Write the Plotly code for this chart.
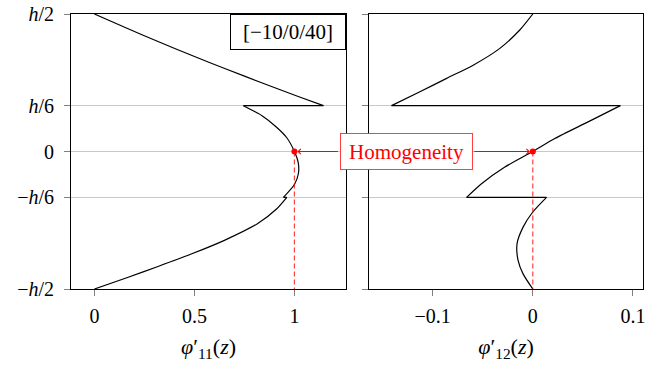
import plotly.graph_objects as go
from plotly.subplots import make_subplots

# layer interfaces and data (z in units of h)
# top layer (40 deg), middle layer (0 deg), bottom layer (-10 deg)
z_top = [0.5, 0.45, 0.4, 0.35, 0.3, 0.25, 0.2, 0.1667]
phi11_top = [0.0, 0.157, 0.318, 0.485, 0.658, 0.836, 1.019, 1.145]

z_mid = [0.1667, 0.13, 0.09, 0.05, 0.0, -0.04, -0.08, -0.12, -0.1667]
phi11_mid = [0.745, 0.838, 0.908, 0.962, 1.0, 1.019, 1.02, 1.0, 0.945]

z_bot = [-0.1667, -0.208, -0.2625, -0.323, -0.372, -0.418, -0.459, -0.5]
phi11_bot = [0.962, 0.912, 0.815, 0.65, 0.487, 0.318, 0.162, 0.0]

z12_top = [0.5, 0.4417, 0.375, 0.314, 0.266, 0.217, 0.1667]
phi12_top = [0.0, -0.013, -0.0329, -0.0595, -0.086, -0.1127, -0.141]

z12_mid = [0.1667, 0.1077, 0.0472, 0.0, -0.0563, -0.117, -0.1667]
phi12_mid = [0.0874, 0.0552, 0.0219, 0.0, -0.0279, -0.0512, -0.0661]

z12_bot = [-0.1667, -0.22, -0.275, -0.335, -0.396, -0.445, -0.5]
phi12_bot = [0.0137, 0.0, -0.0097, -0.0157, -0.0147, -0.0097, 0.0]

# homogeneity points
hom_z = 0.0
hom_phi11 = 1.0
hom_phi12 = 0.0
z_min = -0.5

y_tick_vals = [-0.5, -1 / 6, 0, 1 / 6, 0.5]
y_tick_text = ["\u2212<i>h</i>/2", "\u2212<i>h</i>/6", "0", "<i>h</i>/6", "<i>h</i>/2"]
x1_tick_vals = [0, 0.5, 1]
x1_tick_text = ["0", "0.5", "1"]
x2_tick_vals = [-0.1, 0, 0.1]
x2_tick_text = ["\u22120.1", "0", "0.1"]

layup = "[\u221210/0/40]"

FONT = "Liberation Serif"
RED = "red"

fig = make_subplots(rows=1, cols=2, horizontal_spacing=0.04)

layers11 = [(phi11_top, z_top), (phi11_mid, z_mid), (phi11_bot, z_bot)]
layers12 = [(phi12_top, z12_top), (phi12_mid, z12_mid), (phi12_bot, z12_bot)]

for col, layers in [(1, layers11), (2, layers12)]:
    for xs, zs in layers:
        fig.add_trace(go.Scatter(x=xs, y=zs, mode="lines",
                                 line=dict(color="black", width=1.2, shape="spline", smoothing=0.7),
                                 hoverinfo="skip"), row=1, col=col)
    # jumps at the interfaces
    for (xa, za), (xb, zb) in zip(layers[:-1], layers[1:]):
        fig.add_trace(go.Scatter(x=[xa[-1], xb[0]], y=[za[-1], zb[0]], mode="lines",
                                 line=dict(color="black", width=1.2),
                                 hoverinfo="skip"), row=1, col=col)

for col, hx in [(1, hom_phi11), (2, hom_phi12)]:
    fig.add_trace(go.Scatter(x=[hx, hx], y=[hom_z, z_min], mode="lines",
                             line=dict(color="rgba(255,0,0,0.75)", width=1.2, dash="5px,3px"),
                             hoverinfo="skip"), row=1, col=col)
    fig.add_trace(go.Scatter(x=[hx], y=[hom_z], mode="markers",
                             marker=dict(color=RED, size=6),
                             hoverinfo="skip"), row=1, col=col)

axis_common = dict(showline=True, mirror=True, linecolor="black", linewidth=1,
                   ticks="outside", ticklen=6, tickcolor="gray", zeroline=False,
                   automargin=False, ticklabeloverflow="allow",
                   tickfont=dict(family=FONT, size=20, color="black"))

fig.update_xaxes(showgrid=False, ticklabelstandoff=3, **axis_common)
fig.update_yaxes(range=[-0.5, 0.5], tickvals=y_tick_vals, ticktext=y_tick_text,
                 showgrid=True, gridcolor="#c8c8c8", gridwidth=1,
                 ticklabelstandoff=6, **axis_common)
fig.update_yaxes(showticklabels=False, row=1, col=2)

fig.update_xaxes(range=[-0.117, 1.258], tickvals=x1_tick_vals, ticktext=x1_tick_text,
                 title=dict(text="<i>\u03c6</i>\u2032<sub>11</sub>(<i>z</i>)",
                            font=dict(family=FONT, size=22, color="black"), standoff=12),
                 row=1, col=1)
fig.update_xaxes(range=[-0.1635, 0.110], tickvals=x2_tick_vals, ticktext=x2_tick_text,
                 title=dict(text="<i>\u03c6</i>\u2032<sub>12</sub>(<i>z</i>)",
                            font=dict(family=FONT, size=22, color="black"), standoff=12),
                 row=1, col=2)

# layup label
fig.add_annotation(xref="x domain", yref="y domain", x=1, y=1, xanchor="right", yanchor="top",
                   text=layup, showarrow=False, font=dict(family=FONT, size=21, color="black"),
                   bgcolor="white", bordercolor="black", borderwidth=1, borderpad=5,
                   width=104, height=24)

# arrows to the homogeneity points
fig.add_annotation(xref="x", yref="y", x=hom_phi11, y=hom_z, ax=45, ay=0, text="",
                   showarrow=True, arrowhead=4, arrowsize=1, arrowwidth=1, arrowcolor=RED, standoff=3)
fig.add_annotation(xref="x2", yref="y2", x=hom_phi12, y=hom_z, ax=-60, ay=0, text="",
                   showarrow=True, arrowhead=4, arrowsize=1, arrowwidth=1, arrowcolor=RED, standoff=3)
fig.add_annotation(xref="paper", yref="y", x=0.587, y=hom_z, xanchor="center", yanchor="middle",
                   text="Homogeneity", showarrow=False, font=dict(family=FONT, size=21, color=RED),
                   bgcolor="white", bordercolor="rgba(255,0,0,0.75)", borderwidth=1, borderpad=5,
                   width=121, height=25)

fig.update_layout(width=665, height=367, showlegend=False,
                  plot_bgcolor="white", paper_bgcolor="white",
                  margin=dict(l=71, r=22, t=14, b=78))
fig.update_xaxes(domain=[0, 0.4808], row=1, col=1)
fig.update_xaxes(domain=[0.521, 1], row=1, col=2)

# drop the default 8px body margin so the figure sits at the page corner
fig.write_html("out.html", config={"displayModeBar": False},
               post_script="document.body.style.margin='0';")
